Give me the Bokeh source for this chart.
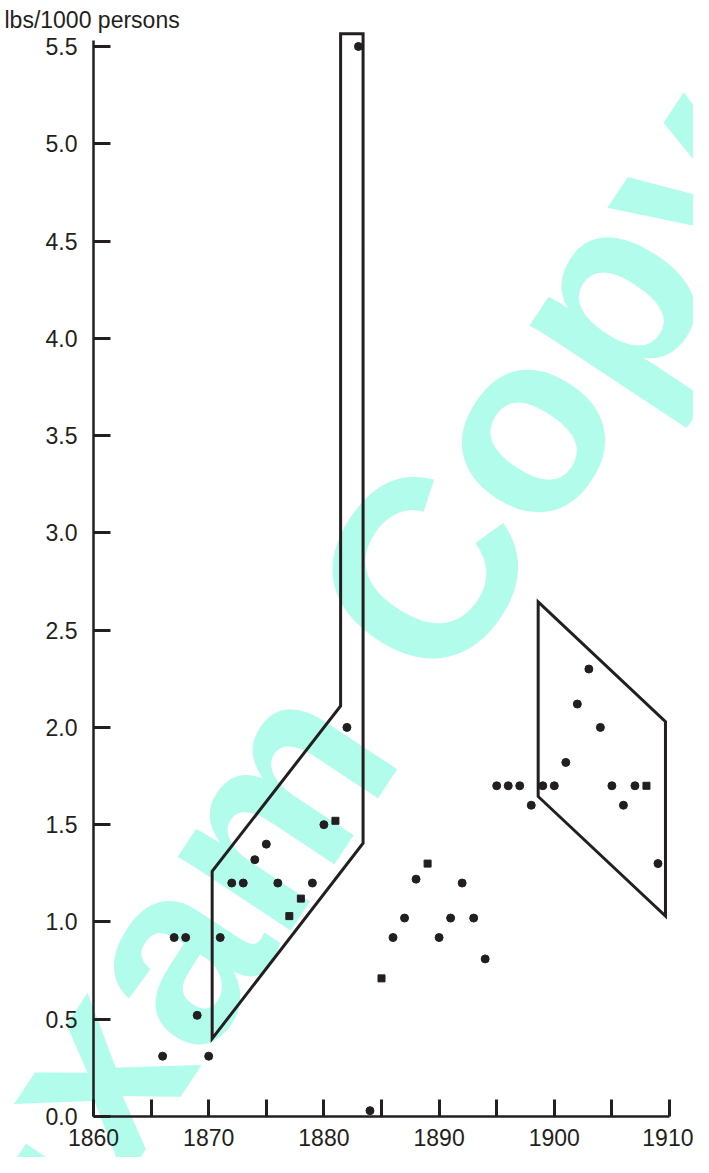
from bokeh.plotting import figure
from bokeh.models import FixedTicker, Range1d, Label, NumeralTickFormatter
from bokeh.embed import file_html
from bokeh.resources import INLINE

# ---- data ----
circle_years = [1866, 1867, 1868, 1869, 1870, 1871, 1872, 1873, 1874, 1875, 1876,
                1879, 1880, 1882, 1883, 1884,
                1886, 1887, 1888,
                1890, 1891, 1892, 1893, 1894, 1895, 1896, 1897, 1898, 1899,
                1900, 1901, 1902, 1903, 1904, 1905, 1906, 1907,
                1909]
circle_values = [0.31, 0.92, 0.92, 0.52, 0.31, 0.92, 1.20, 1.20, 1.32, 1.40, 1.20,
                 1.20, 1.50, 2.00, 5.50, 0.03,
                 0.92, 1.02, 1.22,
                 0.92, 1.02, 1.20, 1.02, 0.81, 1.70, 1.70, 1.70, 1.60, 1.70,
                 1.70, 1.82, 2.12, 2.30, 2.00, 1.70, 1.60, 1.70,
                 1.30]
square_years = [1877, 1878, 1881, 1885, 1889, 1908]
square_values = [1.03, 1.12, 1.52, 0.71, 1.30, 1.70]

band1_years = [1870.3, 1870.3, 1881.45, 1881.45, 1883.4, 1883.4]
band1_values = [0.40, 1.26, 2.11, 5.565, 5.565, 1.405]
band2_years = [1898.6, 1909.65, 1909.65, 1898.6]
band2_values = [2.645, 2.03, 1.03, 1.645]

x_major_ticks = [1860, 1870, 1880, 1890, 1900, 1910]
x_minor_ticks = [1865, 1875, 1885, 1895, 1905]
y_ticks = [0.0, 0.5, 1.0, 1.5, 2.0, 2.5, 3.0, 3.5, 4.0, 4.5, 5.0, 5.5]
y_label = "lbs/1000 persons"
watermark = "Exam Copy"

INK = "#231f20"
FONT = "Liberation Sans"

W, H = 693, 1157
# frame fills the whole canvas; axes are pinned at 1860 / 0
p = figure(width=W, height=H, output_backend="svg", toolbar_location=None,
           x_range=Range1d(1851.927, 1912.083), y_range=Range1d(-0.21075, 5.7364),
           min_border_left=0, min_border_right=0, min_border_top=0,
           min_border_bottom=0)
p.outline_line_color = None
p.grid.visible = False
p.background_fill_color = "white"
p.border_fill_color = "white"

# watermark (under everything)
p.add_layout(Label(x=1848.116, y=-0.8132, text=watermark, angle=0.986,
                   text_font=FONT, text_font_style="bold", text_font_size="255px",
                   text_color="#b2fcec", text_align="left",
                   text_baseline="alphabetic", level="underlay"))

# bands
p.patch(band1_years, band1_values, fill_color=None, line_color=INK,
        line_width=3, line_join="miter")
p.patch(band2_years, band2_values, fill_color=None, line_color=INK,
        line_width=3, line_join="miter")

# points
p.scatter(circle_years, circle_values, marker="circle", size=8,
          fill_color=INK, line_color=INK)
p.scatter(square_years, square_values, marker="square", size=7,
          fill_color=INK, line_color=INK)

# axes
for ax in (p.xaxis, p.yaxis):
    ax.axis_line_color = INK
    ax.axis_line_width = 2.5
    ax.major_tick_line_color = INK
    ax.major_tick_line_width = 3
    ax.major_tick_in = 17
    ax.major_tick_out = 0
    ax.major_label_text_font = FONT
    ax.major_label_text_font_size = "23px"
    ax.major_label_text_color = INK

p.xaxis.fixed_location = 0
p.xaxis.ticker = FixedTicker(ticks=x_major_ticks, minor_ticks=x_minor_ticks)
p.xaxis.minor_tick_line_color = INK
p.xaxis.minor_tick_line_width = 3
p.xaxis.minor_tick_in = 17
p.xaxis.minor_tick_out = 0
p.xaxis.bounds = (1860, 1910)
p.xaxis.major_label_standoff = 13

p.yaxis.fixed_location = 1860
p.yaxis.ticker = FixedTicker(ticks=y_ticks)
p.yaxis.minor_tick_line_color = None
p.yaxis.formatter = NumeralTickFormatter(format="0.0")
p.yaxis.bounds = (0, 5.53)
p.yaxis.major_label_standoff = 16

p.add_layout(Label(x=1852.274, y=5.6337, text=y_label, text_font=FONT,
                   text_font_size="23px", text_color=INK, text_align="left",
                   text_baseline="alphabetic"))

open("out.html", "w").write(file_html(p, INLINE))
